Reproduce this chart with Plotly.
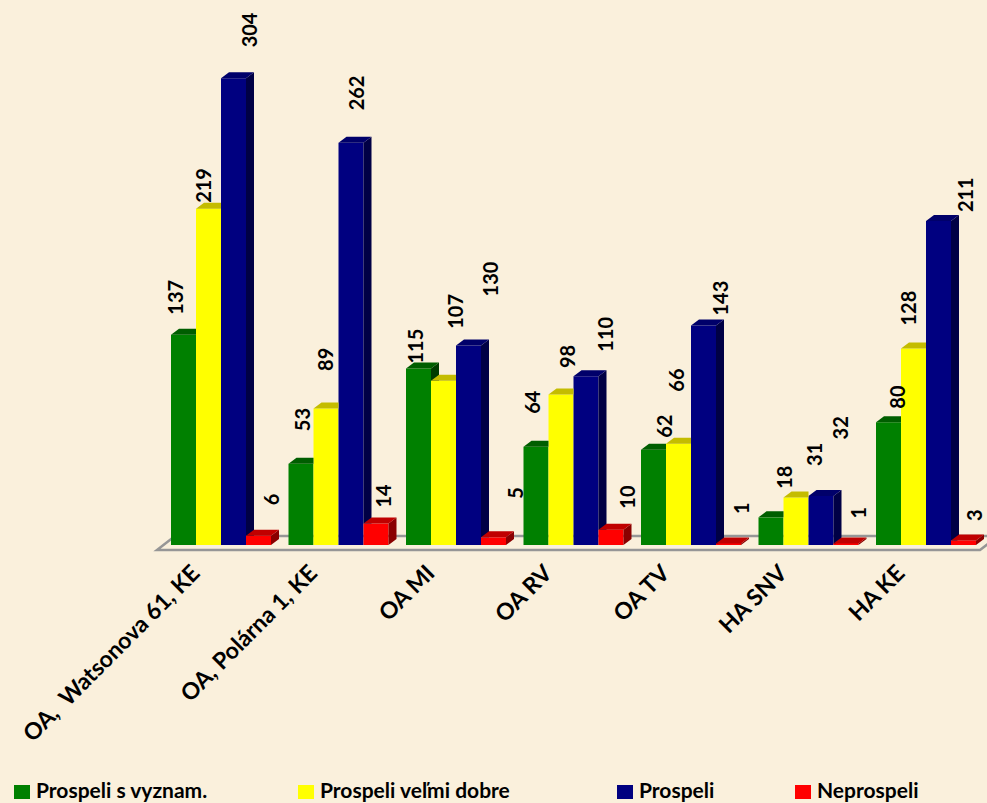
import plotly.graph_objects as go

# ---------------- data ----------------
categories = ["OA,  Watsonova 61, KE", "OA, Polárna 1, KE", "OA MI", "OA RV",
              "OA TV", "HA SNV", "HA KE"]
series_names = ["Prospeli s vyznam.", "Prospeli veľmi dobre", "Prospeli", "Neprospeli"]
prospeli_s_vyznam = [137, 53, 115, 64, 62, 18, 80]
prospeli_velmi_dobre = [219, 89, 107, 98, 66, 31, 128]
prospeli = [304, 262, 130, 110, 143, 32, 211]
neprospeli = [6, 14, 5, 10, 1, 1, 3]
series_values = [prospeli_s_vyznam, prospeli_velmi_dobre, prospeli, neprospeli]

# ---------------- styling ----------------
front_colors = ["#008000", "#FFFF00", "#000080", "#FF0000"]
top_colors = ["#005E00", "#C4BC00", "#00006A", "#C00000"]
side_colors = ["#003C00", "#9A9400", "#000045", "#8A0000"]
BG = "#FAF0DC"
FONT = "Lato"

# label offsets in pixels (x, y) relative to the front top of each bar
label_dx = [[-8, 1, -4, -4, 11, 13, 9],
            [-5, -1, 12, 6, -2, 18, -5],
            [15, 5, 21, 19, 16, 19, 26],
            [12, 7, 22, 16, 13, 12, 11]]
label_dy = [[18, 30, 3, 31, 10, 26, 11],
            [4, 35, 50, 24, 50, 29, 21],
            [29, 30, 47, 22, 8, 54, 7],
            [28, 14, 36, 19, 27, 23, 17]]

# geometry (pixel scale of the layout)
W_PX, H_PX = 987, 803
PX_PER_CAT = 117.5
X0_PX = 221.0          # pixel of first category centre
BASE_PX = 545.0        # pixel of value 0
PX_PER_VAL = 1.535
PLOT_L, PLOT_R, PLOT_T, PLOT_B = 150, 987, 5, 560

BAR_W = 25 / PX_PER_CAT
DX = 8 / PX_PER_CAT
DY = 6 / PX_PER_VAL

x_range = [(PLOT_L - X0_PX) / PX_PER_CAT, (PLOT_R - X0_PX) / PX_PER_CAT]
y_range = [(BASE_PX - PLOT_B) / PX_PER_VAL, (BASE_PX - PLOT_T) / PX_PER_VAL]


def clip(poly, inside, inter):
    out = []
    n = len(poly)
    for i in range(n):
        cur, prev = poly[i], poly[i - 1]
        if inside(cur):
            if not inside(prev):
                out.append(inter(prev, cur))
            out.append(cur)
        elif inside(prev):
            out.append(inter(prev, cur))
    return out


def clip_y_min(poly, ymin):
    def inter(a, b):
        t = (ymin - a[1]) / (b[1] - a[1])
        return (a[0] + t * (b[0] - a[0]), ymin)
    return clip(poly, lambda p: p[1] >= ymin, inter)


def clip_x_max(poly, xmax):
    def inter(a, b):
        t = (xmax - a[0]) / (b[0] - a[0])
        return (xmax, a[1] + t * (b[1] - a[1]))
    return clip(poly, lambda p: p[0] <= xmax, inter)


def poly_xy(polys):
    xs, ys = [], []
    for p in polys:
        if len(p) < 3:
            continue
        for (a, b) in p + [p[0]]:
            xs.append(a)
            ys.append(b)
        xs.append(None)
        ys.append(None)
    return xs, ys


fig = go.Figure()
xpos = list(range(len(categories)))
n_series = len(series_values)

# front faces as bars
for k, vals in enumerate(series_values):
    fig.add_trace(go.Bar(
        x=xpos, y=vals, width=BAR_W, offset=-2 * BAR_W + k * BAR_W,
        marker=dict(color=front_colors[k], line=dict(width=0)),
        name=series_names[k], showlegend=False, hoverinfo="skip"))

# side faces
for k, vals in enumerate(series_values):
    polys = []
    for i, v in enumerate(vals):
        x1 = i - 2 * BAR_W + (k + 1) * BAR_W
        p = [(x1, 0), (x1, v), (x1 + DX, v + DY), (x1 + DX, DY)]
        if k < n_series - 1:
            vn = series_values[k + 1][i]
            p = clip_y_min(p, vn)
        polys.append(p)
    xs, ys = poly_xy(polys)
    fig.add_trace(go.Scatter(x=xs, y=ys, mode="lines", fill="toself",
                             fillcolor=side_colors[k], line=dict(width=0),
                             showlegend=False, hoverinfo="skip"))

# top faces
for k, vals in enumerate(series_values):
    polys = []
    for i, v in enumerate(vals):
        x0 = i - 2 * BAR_W + k * BAR_W
        x1 = x0 + BAR_W
        p = [(x0, v), (x1, v), (x1 + DX, v + DY), (x0 + DX, v + DY)]
        if k < n_series - 1 and series_values[k + 1][i] > v:
            p = clip_x_max(p, x1)
        polys.append(p)
    xs, ys = poly_xy(polys)
    fig.add_trace(go.Scatter(x=xs, y=ys, mode="lines", fill="toself",
                             fillcolor=top_colors[k], line=dict(width=0),
                             showlegend=False, hoverinfo="skip"))

# data labels
annotations = []
for k, vals in enumerate(series_values):
    for i, v in enumerate(vals):
        xc = i - 2 * BAR_W + (k + 0.5) * BAR_W
        annotations.append(dict(
            x=xc, y=v, xref="x", yref="y", text=str(v), showarrow=False,
            textangle=-90, xanchor="center", yanchor="bottom",
            xshift=label_dx[k][i], yshift=label_dy[k][i],
            font=dict(family=FONT, size=20, color="black", weight="bold")))

# custom legend
legend_px = [14, 298, 617, 795]
legend_y_px = 789
pw, ph = PLOT_R - PLOT_L, PLOT_B - PLOT_T
shapes = []
for k, name in enumerate(series_names):
    lx = legend_px[k]
    shapes.append(dict(type="rect", xref="paper", yref="paper",
                       x0=(lx - PLOT_L) / pw, x1=(lx + 16 - PLOT_L) / pw,
                       y0=(PLOT_B - 799) / ph, y1=(PLOT_B - 785) / ph,
                       fillcolor=front_colors[k], line=dict(width=0)))
    annotations.append(dict(
        x=(lx + 21 - PLOT_L) / pw, y=(PLOT_B - legend_y_px) / ph,
        xref="paper", yref="paper", text=name, showarrow=False,
        xanchor="left", yanchor="middle", borderpad=0,
        font=dict(family=FONT, size=21, color="black", weight="bold")))

# floor
xL = (157 - X0_PX) / PX_PER_CAT
xR = (980 - X0_PX) / PX_PER_CAT
yF = (BASE_PX - 550) / PX_PER_VAL
yB = (BASE_PX - 536) / PX_PER_VAL
FDX = 18 / PX_PER_CAT
shapes.append(dict(
    type="path", xref="x", yref="y", layer="below",
    path=f"M {xL},{yF} L {xR},{yF} L {xR + FDX},{yB} L {xL + FDX},{yB} Z",
    line=dict(color="#969696", width=2.5), fillcolor="rgba(0,0,0,0)"))

tick_text = [c.replace("  ", "\u00a0\u00a0") for c in categories]

fig.update_layout(
    width=W_PX, height=H_PX,
    margin=dict(l=PLOT_L, r=W_PX - PLOT_R, t=PLOT_T, b=H_PX - PLOT_B),
    paper_bgcolor=BG, plot_bgcolor=BG,
    barmode="overlay", showlegend=False,
    annotations=annotations, shapes=shapes,
    xaxis=dict(range=x_range, tickmode="array", tickvals=xpos,
               ticktext=tick_text, tickangle=-45, showgrid=False,
               zeroline=False, showline=False, ticks="",
               ticklabelshift=-28, ticklabelstandoff=-6,
               tickfont=dict(family=FONT, size=23, color="black", weight="bold")),
    yaxis=dict(range=y_range, visible=False, showgrid=False, zeroline=False),
)

fig.write_html(
    "out.html",
    config={"displayModeBar": False},
    post_script="document.body.style.margin='0';document.body.style.padding='0';"
                "document.body.style.overflow='hidden';"
                "document.body.style.background='" + BG + "';")
